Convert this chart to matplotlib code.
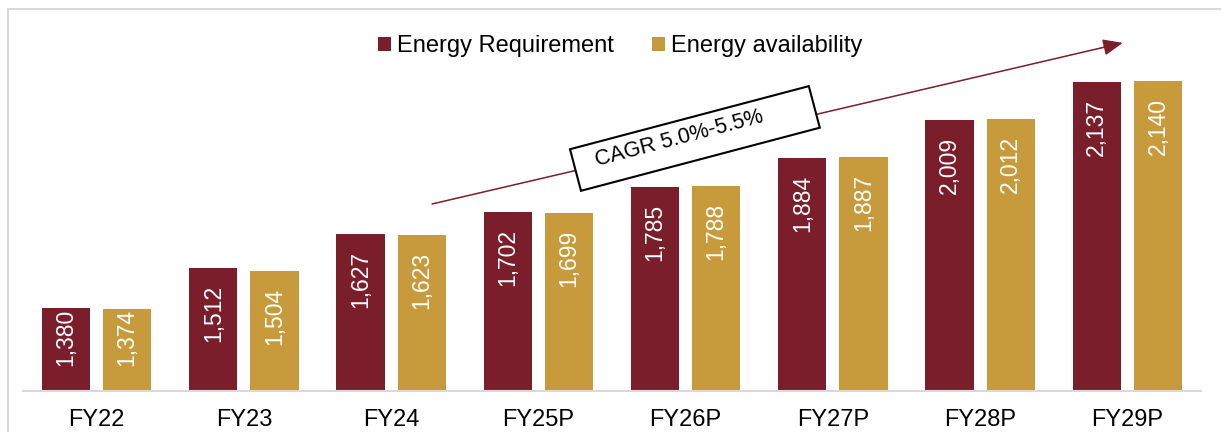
import matplotlib
matplotlib.use("Agg")
import matplotlib.pyplot as plt
from matplotlib.patches import Rectangle
from matplotlib.transforms import Affine2D
import numpy as np

categories = ["FY22", "FY23", "FY24", "FY25P", "FY26P", "FY27P", "FY28P", "FY29P"]
requirement = [1380, 1512, 1627, 1702, 1785, 1884, 2009, 2137]
availability = [1374, 1504, 1623, 1699, 1788, 1887, 2012, 2140]
series_names = ["Energy Requirement", "Energy availability"]
cagr_text = "CAGR 5.0%-5.5%"

RED = "#7B1E2B"
GOLD = "#C79B3B"
W, H = 1221, 432
DPI = 100

plt.rcParams['font.family'] = ['Liberation Sans', 'DejaVu Sans']
fig = plt.figure(figsize=(W / DPI, H / DPI), dpi=DPI)
ax = fig.add_axes([23 / W, (H - 391) / H, (1201 - 23) / W, (391 - 9) / H])

x = np.arange(len(categories))
bw = 0.327
off = 0.2075
b1 = ax.bar(x - off, requirement, bw, color=RED, label=series_names[0], zorder=2)
b2 = ax.bar(x + off, availability, bw, color=GOLD, label=series_names[1], zorder=2)

ymin = 1100
px_per_unit = 0.2978
ymax = ymin + 382 / px_per_unit
ax.set_xlim(-0.5, len(categories) - 0.5)
ax.set_ylim(ymin, ymax)

for s in ["top", "right", "left"]:
    ax.spines[s].set_visible(False)
ax.spines["bottom"].set_color("#D9D9D9")
ax.spines["bottom"].set_linewidth(1.5)
ax.set_yticks([])
ax.set_xticks(x)
ax.set_xticklabels(categories, fontsize=17)
ax.tick_params(axis="x", length=0, pad=13)

# value labels
text_px = 58
for bars, vals in ((b1, requirement), (b2, availability)):
    for rect, v in zip(bars, vals):
        bar_px = (v - ymin) * px_per_unit
        off_px = min(17, max(0, bar_px - text_px - 24))
        ax.annotate(f"{v:,}", xy=(rect.get_x() + rect.get_width() / 2, v),
                    xytext=(0, -off_px * 0.72), textcoords="offset points",
                    rotation=90, ha="center", va="top", color="white",
                    fontsize=16.5, zorder=3)

# CAGR arrow
ax.annotate("", xy=(6.969, 2269), xytext=(2.278, 1728),
            arrowprops=dict(arrowstyle="-|>,head_length=1.2,head_width=0.5",
                            color=RED, lw=1.1, shrinkA=0, shrinkB=0),
            zorder=4)

# rotated box
fig.canvas.draw()
cx, cy = ax.transData.transform((4.063, 1948))
angle = 14.8
rect = Rectangle((-123.5, -21.5), 247, 43, facecolor="white", edgecolor="black",
                 lw=1.5, transform=Affine2D().rotate_deg(angle).translate(cx, cy),
                 zorder=5)
fig.patches.append(rect)
fig.text(*fig.transFigure.inverted().transform(ax.transData.transform((3.955, 1946))),
         cagr_text, rotation=angle, rotation_mode="anchor", ha="center", va="center",
         fontsize=15.5, zorder=6)

# legend
fig.legend(handles=[b1, b2], labels=series_names, loc="center",
           bbox_to_anchor=(620 / W, 1 - 46 / H), ncol=2, frameon=False,
           fontsize=17, handlelength=0.55, handleheight=0.55,
           handletextpad=0.25, columnspacing=1.6, borderpad=0)

# outer border
fig.patches.append(Rectangle((8 / W, -0.1), 1.2, 1.1 - 9 / H, transform=fig.transFigure,
                             fill=False, edgecolor="#D9D9D9", lw=1.5, zorder=0))

fig.savefig("out.png", dpi=DPI)
